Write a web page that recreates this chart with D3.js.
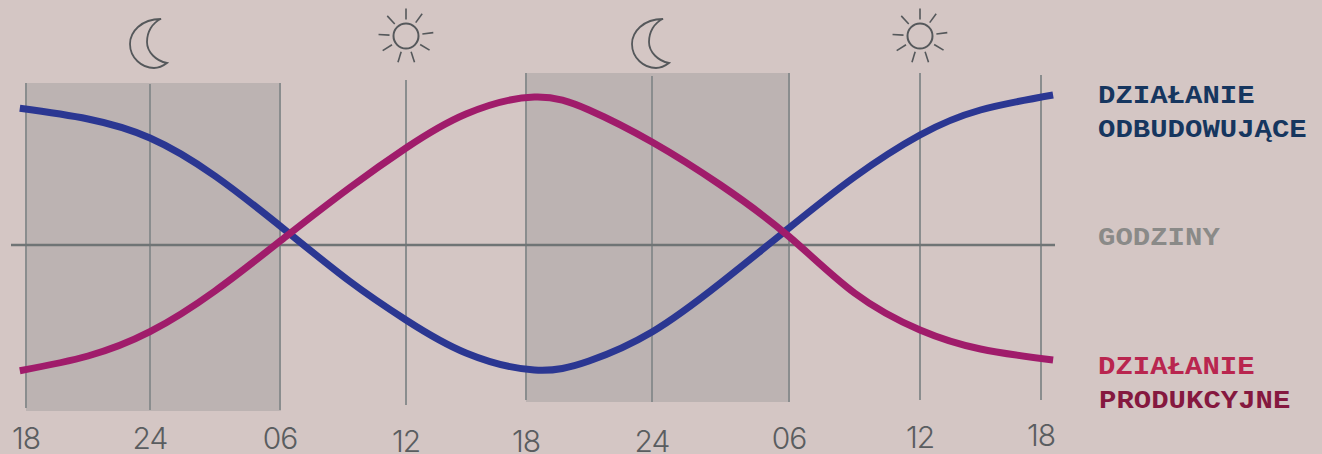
<!DOCTYPE html>
<html><head><meta charset="utf-8">
<script src="https://cdn.jsdelivr.net/npm/d3@7"></script>
<style>html,body{margin:0;padding:0;background:#d4c6c4;overflow:hidden}svg{display:block}</style>
</head><body><svg id="c" width="1322" height="454"></svg>
<script>
const hours=[17.7,21,24,27,30.3,33.3,36,39,42.4,45,48,51,54,57,60,63,66.6];
const anabolic=[136.7,126,107,69,14,-36,-75,-108,-125,-116,-87,-38,17,68,110,135,150];
const productive=[-125.7,-111,-86.7,-46,8.7,57,97,131,148,135,103,60,8.5,-48,-85,-104,-115];
const tickHours=[18,24,30,36,42,48,54,60,66];
const tickLabels=["18","24","06","12","18","24","06","12","18"];
const tickPositions=[26,150,280,406,526,652,789,920,1041];
const tickTop=[83,84,83,80,73,76,73,73,75];
const tickBottom=[408,410,410,405,400,402,402,400,400];
const labelY=[449,449,449,452,452,452,449,448,446];
const nightStart=[18,42], nightEnd=[30,54], nightTop=[83,73], nightBottom=[411,402];
const moonHours=[24,48], sunHours=[36,60];
const rayAngles=[0,36,83,121,162,197,238,273,317];

const x=d3.scaleLinear().domain(tickHours).range(tickPositions);
const y=d3.scaleLinear().domain([-150,150]).range([395,95]);
const svg=d3.select("#c");
svg.append("rect").attr("width",1322).attr("height",454).attr("fill","#d4c6c4");

svg.selectAll(".night").data(nightStart).join("rect").attr("class","night")
 .attr("x",d=>x(d)).attr("width",(d,i)=>x(nightEnd[i])-x(d)+1)
 .attr("y",(d,i)=>nightTop[i]).attr("height",(d,i)=>nightBottom[i]-nightTop[i])
 .attr("fill","#bcb3b2");

svg.selectAll(".grid").data(tickHours).join("line").attr("class","grid")
 .attr("x1",d=>x(d)).attr("x2",d=>x(d))
 .attr("y1",(d,i)=>tickTop[i]).attr("y2",(d,i)=>tickBottom[i])
 .attr("stroke","#8a8d8e").attr("stroke-width",2);

svg.append("line").attr("x1",11).attr("x2",1055).attr("y1",y(0)).attr("y2",y(0))
 .attr("stroke","#6f7475").attr("stroke-width",2.5);

const line=d3.line().x(d=>x(d[0])).y(d=>y(d[1])).curve(d3.curveNatural);
svg.append("path").attr("d",line(hours.map((h,i)=>[h,anabolic[i]]))).attr("fill","none")
 .attr("stroke","#2b3792").attr("stroke-width",7);
svg.append("path").attr("d",line(hours.map((h,i)=>[h,productive[i]]))).attr("fill","none")
 .attr("stroke","#a01c6b").attr("stroke-width",7);

svg.selectAll(".tick").data(tickLabels).join("text").attr("class","tick")
 .attr("x",(d,i)=>x(tickHours[i])).attr("y",(d,i)=>labelY[i])
 .attr("text-anchor","middle").attr("font-family","Inter").attr("font-weight",300)
 .attr("letter-spacing",-1).attr("font-size",30).attr("fill","#5a5d60").text(d=>d);

const moon="M11,-24 C-9,-24 -20,-11 -20,1 C-20,15 -8,25 4,25 C9,25 13,23 17,20 C6,18 -3,9 -3,-1 C-3,-11 2,-20 11,-24Z";
svg.selectAll(".moon").data(moonHours).join("path").attr("class","moon")
 .attr("d",moon).attr("transform",d=>`translate(${x(d)},43)`)
 .attr("fill","none").attr("stroke","#55585b").attr("stroke-width",1.8);

const sun=svg.selectAll(".sun").data(sunHours).join("g").attr("class","sun")
 .attr("transform",d=>`translate(${x(d)},36)`);
sun.append("circle").attr("r",12.5).attr("fill","none").attr("stroke","#55585b").attr("stroke-width",2);
sun.selectAll("line").data(rayAngles).join("line")
 .attr("x1",d=>16.5*Math.sin(d*Math.PI/180)).attr("y1",d=>-16.5*Math.cos(d*Math.PI/180))
 .attr("x2",d=>27.5*Math.sin(d*Math.PI/180)).attr("y2",d=>-27.5*Math.cos(d*Math.PI/180))
 .attr("stroke","#55585b").attr("stroke-width",1.6);

const legendText=["DZIAŁANIE","ODBUDOWUJĄCE","GODZINY","DZIAŁANIE","PRODUKCYJNE"];
const legendColor=["#16365f","#16365f","#8a8a88","#b9254f","#85183f"];
const legendX=[1098,1098,1098,1098,1099];
const legendY=[103,137,245,374,408];
svg.selectAll(".leg").data(legendText).join("text").attr("class","leg")
 .attr("transform",(d,i)=>`translate(${legendX[i]},${legendY[i]}) scale(1,0.9)`)
 .attr("font-family","'Liberation Mono'").attr("font-weight",700).attr("font-size",29)
 .attr("fill",(d,i)=>legendColor[i]).text(d=>d);
</script></body></html>
